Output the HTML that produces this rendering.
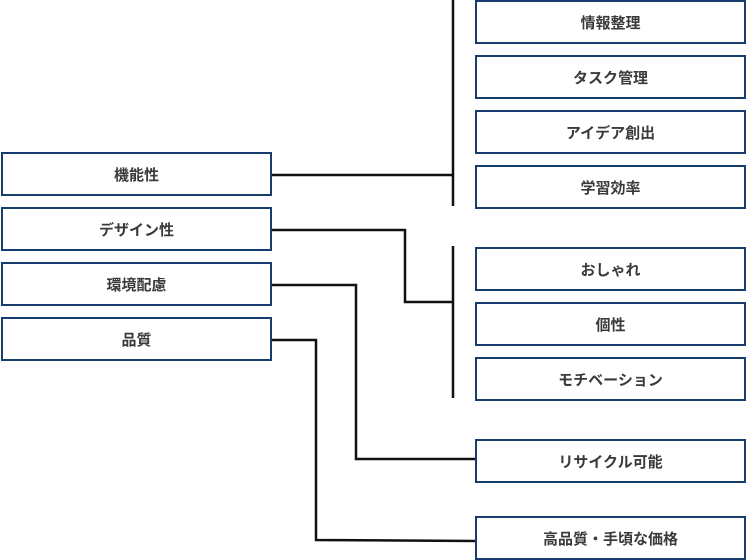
<!DOCTYPE html>
<html><head><meta charset="utf-8"><style>
body{margin:0;width:747px;height:560px;background:#fff;position:relative;overflow:hidden;font-family:"Liberation Sans","Noto Sans CJK JP",sans-serif;}
.b{position:absolute;box-sizing:border-box;border:2.5px solid #163d6b;background:#fff;display:flex;align-items:center;justify-content:center;font-size:15px;font-weight:bold;color:#3a3a3a;}
.l{left:1px;width:271px;height:44px}
.r{left:475px;width:271px;height:44px}
svg{position:absolute;left:0;top:0}
</style></head><body>
<svg width="747" height="560"><g stroke="#111" stroke-width="2.5" fill="none">
<line x1="453" y1="0" x2="453" y2="206"/>
<line x1="453" y1="246" x2="453" y2="398"/>
<polyline points="271,175 453,175"/>
<polyline points="271,230 405,230 405,302 453,302"/>
<polyline points="271,285 356,285 356,459 476,459"/>
<polyline points="271,340 316,340 316,540 476,541"/>
</g></svg>
<div class="b l" style="top:152px">機能性</div>
<div class="b l" style="top:207px">デザイン性</div>
<div class="b l" style="top:262px">環境配慮</div>
<div class="b l" style="top:317px">品質</div>
<div class="b r" style="top:0px">情報整理</div>
<div class="b r" style="top:55px">タスク管理</div>
<div class="b r" style="top:110px">アイデア創出</div>
<div class="b r" style="top:165px">学習効率</div>
<div class="b r" style="top:247px">おしゃれ</div>
<div class="b r" style="top:302px">個性</div>
<div class="b r" style="top:357px">モチベーション</div>
<div class="b r" style="top:439px">リサイクル可能</div>
<div class="b r" style="top:516px">高品質・手頃な価格</div>
</body></html>
